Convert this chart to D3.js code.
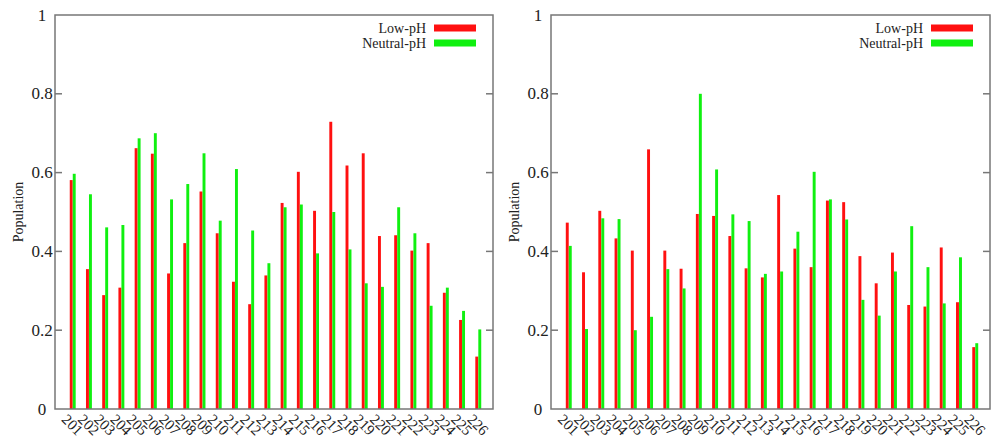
<!DOCTYPE html>
<html><head><meta charset="utf-8">
<script src="https://cdn.jsdelivr.net/npm/d3@7"></script>
<style>body{margin:0;background:#fff}svg{display:block}</style>
</head><body>
<svg id="c" width="997" height="438"></svg>
<script>
const categories = ["201","202","203","204","205","206","207","208","209","210","211","212","213","214","215","216","217","218","219","220","221","222","223","224","225","226"];
const seriesNames = ["Low-pH","Neutral-pH"];
const leftLow = [0.581,0.355,0.289,0.308,0.662,0.648,0.344,0.421,0.552,0.446,0.323,0.266,0.339,0.523,0.602,0.503,0.729,0.618,0.649,0.439,0.441,0.402,0.421,0.295,0.226,0.133];
const leftNeutral = [0.597,0.545,0.461,0.467,0.687,0.700,0.532,0.571,0.649,0.478,0.609,0.453,0.370,0.512,0.519,0.395,0.500,0.405,0.319,0.310,0.512,0.446,0.262,0.308,0.249,0.202];
const rightLow = [0.473,0.347,0.503,0.433,0.402,0.659,0.402,0.356,0.495,0.490,0.439,0.357,0.334,0.543,0.407,0.360,0.529,0.525,0.388,0.319,0.397,0.264,0.260,0.410,0.271,0.157];
const rightNeutral = [0.414,0.203,0.484,0.482,0.200,0.234,0.355,0.306,0.800,0.608,0.494,0.477,0.343,0.349,0.450,0.602,0.532,0.481,0.277,0.237,0.349,0.464,0.360,0.268,0.385,0.167];
const yTicks = [0,0.2,0.4,0.6,0.8,1];
const yTickLabels = ["0","0.2","0.4","0.6","0.8","1"];
const yLabel = "Population";

const colors = ["#ff1010","#10f010"];
const svg = d3.select("#c");
const font = "'Liberation Serif','DejaVu Serif',serif";

function panel(x0, x1, low, neutral) {
  const top = 15, bottom = 409;
  const x = d3.scaleLinear().domain([-1, categories.length]).range([x0, x1]);
  const y = d3.scaleLinear().domain([0, 1]).range([bottom, top]);
  const g = svg.append("g");
  const bw = 0.18;
  const series = [low, neutral];
  series.forEach((vals, s) => {
    g.selectAll(null).data(vals).enter().append("rect")
      .attr("x", (d, i) => x(i - bw / 2 + s * (bw + 0.005)))
      .attr("width", x(bw) - x(0))
      .attr("y", d => y(d))
      .attr("height", d => y(0) - y(d))
      .attr("fill", colors[s]);
  });
  g.append("rect").attr("x", x0).attr("y", top).attr("width", x1 - x0).attr("height", bottom - top)
    .attr("fill", "none").attr("stroke", "#777").attr("stroke-width", 1.5);
  yTicks.forEach((t, k) => {
    if (t > 0 && t < 1) {
      g.append("line").attr("x1", x0).attr("x2", x0 + 7).attr("y1", y(t)).attr("y2", y(t)).attr("stroke", "#777").attr("stroke-width", 1.5);
      g.append("line").attr("x1", x1).attr("x2", x1 - 7).attr("y1", y(t)).attr("y2", y(t)).attr("stroke", "#777").attr("stroke-width", 1.5);
    }
    g.append("text").attr("x", x0 - 13).attr("y", y(t)).attr("text-anchor", "middle")
      .attr("dominant-baseline", "central").attr("font-family", font).attr("font-size", 17)
      .attr("fill", "#222").text(yTickLabels[k]);
  });
  categories.forEach((c, i) => {
    const lx = x(i) - 3, ly = 413;
    g.append("text").attr("transform", `translate(${lx},${ly}) rotate(45)`)
      .attr("text-anchor", "start").attr("dominant-baseline", "hanging")
      .attr("font-family", font).attr("font-size", 15).attr("fill", "#222").text(c);
  });
  g.append("text").attr("transform", `translate(${x0 - 37},${(top + bottom) / 2}) rotate(-90)`)
    .attr("text-anchor", "middle").attr("dominant-baseline", "central")
    .attr("font-family", font).attr("font-size", 14).attr("fill", "#222").text(yLabel);
  seriesNames.forEach((n, s) => {
    const ly = 28.5 + s * 15;
    g.append("text").attr("x", x1 - 67).attr("y", ly).attr("text-anchor", "end")
      .attr("dominant-baseline", "central").attr("font-family", font).attr("font-size", 14)
      .attr("fill", "#222").text(n);
    g.append("rect").attr("x", x1 - 59).attr("y", ly - 4).attr("width", 42).attr("height", 7).attr("fill", colors[s]);
  });
}
panel(55, 493, leftLow, leftNeutral);
panel(551, 990, rightLow, rightNeutral);
</script>
</body></html>
